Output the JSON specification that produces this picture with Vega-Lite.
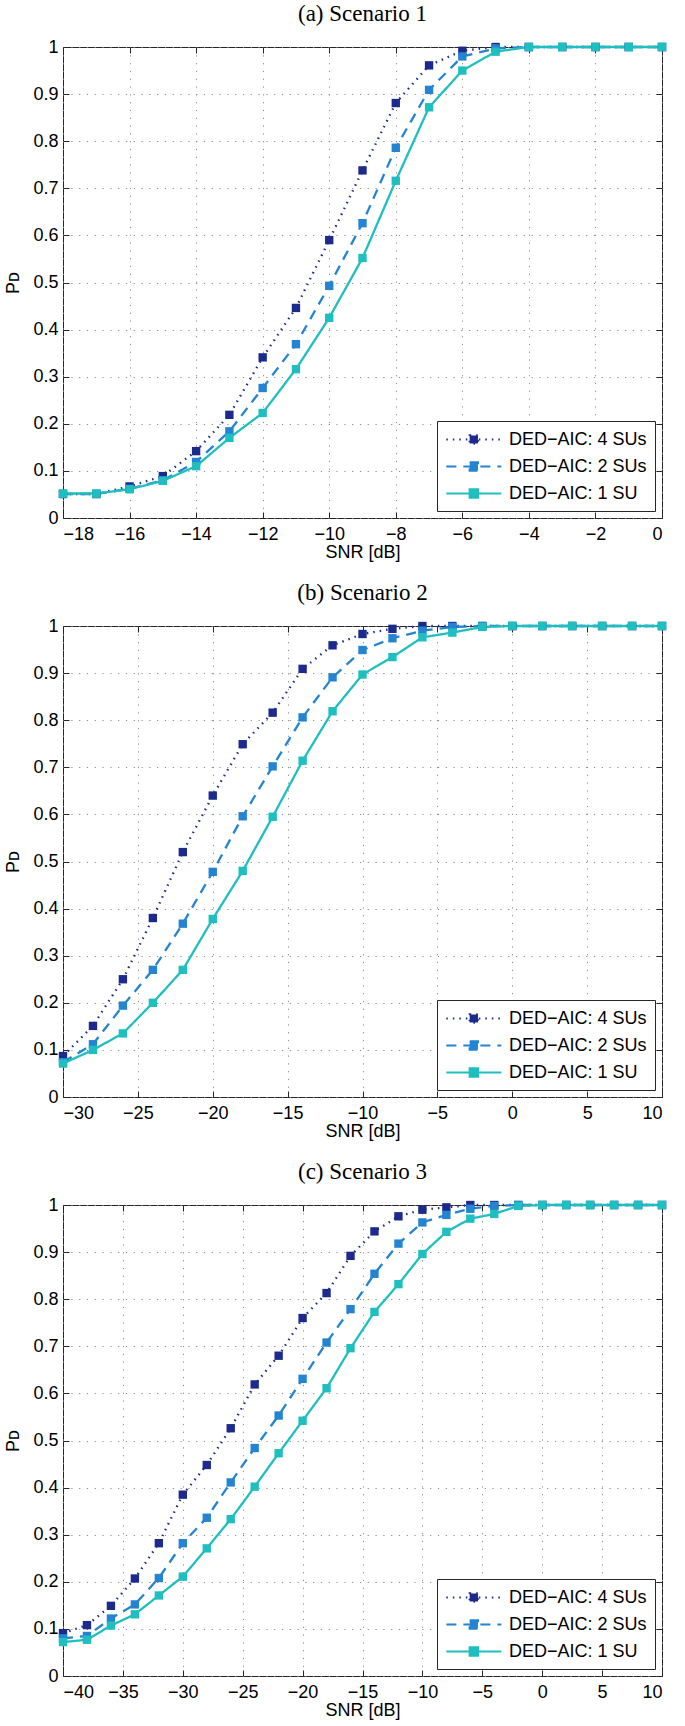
{
"$schema": "https://vega.github.io/schema/vega-lite/v6.json",
"background": "white",
"padding": {"left": 4, "top": 2, "right": 5, "bottom": 0},
"config": {
  "view": {"stroke": "#262626", "strokeWidth": 1},
  "font": "Liberation Sans",
  "axis": {"domain": false, "grid": true, "gridColor": "#8c8c8c", "gridDash": [1.2, 6.6], "gridWidth": 1, "tickColor": "#262626", "tickSize": -6, "labelFont": "Liberation Sans", "labelFontSize": 18, "labelColor": "#000", "titleFont": "Liberation Sans", "titleFontSize": 18, "titleFontWeight": "normal", "titleColor": "#000"},
  "axisX": {"labelPadding": 13, "titlePadding": 0},
  "axisY": {"labelPadding": 11, "titlePadding": 10},
  "title": {"font": "Liberation Serif", "fontSize": 23, "fontWeight": "normal", "color": "#000", "offset": 12},
  "concat": {"spacing": 19}
},
"datasets": {
"d1": [
{"x":-18,"s":"4 SUs","y":0.051},{"x":-17,"s":"4 SUs","y":0.051},{"x":-16,"s":"4 SUs","y":0.067},{"x":-15,"s":"4 SUs","y":0.089},{"x":-14,"s":"4 SUs","y":0.142},{"x":-13,"s":"4 SUs","y":0.219},{"x":-12,"s":"4 SUs","y":0.341},{"x":-11,"s":"4 SUs","y":0.446},{"x":-10,"s":"4 SUs","y":0.590},{"x":-9,"s":"4 SUs","y":0.738},{"x":-8,"s":"4 SUs","y":0.881},{"x":-7,"s":"4 SUs","y":0.961},{"x":-6,"s":"4 SUs","y":0.992},{"x":-5,"s":"4 SUs","y":1},{"x":-4,"s":"4 SUs","y":1},{"x":-3,"s":"4 SUs","y":1},{"x":-2,"s":"4 SUs","y":1},{"x":-1,"s":"4 SUs","y":1},{"x":0,"s":"4 SUs","y":1},
{"x":-18,"s":"2 SUs","y":0.051},{"x":-17,"s":"2 SUs","y":0.051},{"x":-16,"s":"2 SUs","y":0.062},{"x":-15,"s":"2 SUs","y":0.080},{"x":-14,"s":"2 SUs","y":0.119},{"x":-13,"s":"2 SUs","y":0.184},{"x":-12,"s":"2 SUs","y":0.276},{"x":-11,"s":"2 SUs","y":0.369},{"x":-10,"s":"2 SUs","y":0.493},{"x":-9,"s":"2 SUs","y":0.626},{"x":-8,"s":"2 SUs","y":0.786},{"x":-7,"s":"2 SUs","y":0.909},{"x":-6,"s":"2 SUs","y":0.980},{"x":-5,"s":"2 SUs","y":0.997},{"x":-4,"s":"2 SUs","y":1},{"x":-3,"s":"2 SUs","y":1},{"x":-2,"s":"2 SUs","y":1},{"x":-1,"s":"2 SUs","y":1},{"x":0,"s":"2 SUs","y":1},
{"x":-18,"s":"1 SU","y":0.052},{"x":-17,"s":"1 SU","y":0.052},{"x":-16,"s":"1 SU","y":0.061},{"x":-15,"s":"1 SU","y":0.079},{"x":-14,"s":"1 SU","y":0.110},{"x":-13,"s":"1 SU","y":0.170},{"x":-12,"s":"1 SU","y":0.223},{"x":-11,"s":"1 SU","y":0.316},{"x":-10,"s":"1 SU","y":0.425},{"x":-9,"s":"1 SU","y":0.552},{"x":-8,"s":"1 SU","y":0.716},{"x":-7,"s":"1 SU","y":0.872},{"x":-6,"s":"1 SU","y":0.950},{"x":-5,"s":"1 SU","y":0.990},{"x":-4,"s":"1 SU","y":1},{"x":-3,"s":"1 SU","y":1},{"x":-2,"s":"1 SU","y":1},{"x":-1,"s":"1 SU","y":1},{"x":0,"s":"1 SU","y":1}
],
"d2": [
{"x":-30,"s":"4 SUs","y":0.087},{"x":-28,"s":"4 SUs","y":0.151},{"x":-26,"s":"4 SUs","y":0.250},{"x":-24,"s":"4 SUs","y":0.380},{"x":-22,"s":"4 SUs","y":0.520},{"x":-20,"s":"4 SUs","y":0.640},{"x":-18,"s":"4 SUs","y":0.749},{"x":-16,"s":"4 SUs","y":0.816},{"x":-14,"s":"4 SUs","y":0.909},{"x":-12,"s":"4 SUs","y":0.959},{"x":-10,"s":"4 SUs","y":0.983},{"x":-8,"s":"4 SUs","y":0.994},{"x":-6,"s":"4 SUs","y":1},{"x":-4,"s":"4 SUs","y":1},{"x":-2,"s":"4 SUs","y":1},{"x":0,"s":"4 SUs","y":1},{"x":2,"s":"4 SUs","y":1},{"x":4,"s":"4 SUs","y":1},{"x":6,"s":"4 SUs","y":1},{"x":8,"s":"4 SUs","y":1},{"x":10,"s":"4 SUs","y":1},
{"x":-30,"s":"2 SUs","y":0.074},{"x":-28,"s":"2 SUs","y":0.112},{"x":-26,"s":"2 SUs","y":0.194},{"x":-24,"s":"2 SUs","y":0.270},{"x":-22,"s":"2 SUs","y":0.368},{"x":-20,"s":"2 SUs","y":0.478},{"x":-18,"s":"2 SUs","y":0.596},{"x":-16,"s":"2 SUs","y":0.702},{"x":-14,"s":"2 SUs","y":0.806},{"x":-12,"s":"2 SUs","y":0.891},{"x":-10,"s":"2 SUs","y":0.949},{"x":-8,"s":"2 SUs","y":0.974},{"x":-6,"s":"2 SUs","y":0.990},{"x":-4,"s":"2 SUs","y":0.998},{"x":-2,"s":"2 SUs","y":1},{"x":0,"s":"2 SUs","y":1},{"x":2,"s":"2 SUs","y":1},{"x":4,"s":"2 SUs","y":1},{"x":6,"s":"2 SUs","y":1},{"x":8,"s":"2 SUs","y":1},{"x":10,"s":"2 SUs","y":1},
{"x":-30,"s":"1 SU","y":0.071},{"x":-28,"s":"1 SU","y":0.100},{"x":-26,"s":"1 SU","y":0.135},{"x":-24,"s":"1 SU","y":0.200},{"x":-22,"s":"1 SU","y":0.270},{"x":-20,"s":"1 SU","y":0.378},{"x":-18,"s":"1 SU","y":0.480},{"x":-16,"s":"1 SU","y":0.595},{"x":-14,"s":"1 SU","y":0.714},{"x":-12,"s":"1 SU","y":0.819},{"x":-10,"s":"1 SU","y":0.897},{"x":-8,"s":"1 SU","y":0.934},{"x":-6,"s":"1 SU","y":0.976},{"x":-4,"s":"1 SU","y":0.986},{"x":-2,"s":"1 SU","y":0.998},{"x":0,"s":"1 SU","y":1},{"x":2,"s":"1 SU","y":1},{"x":4,"s":"1 SU","y":1},{"x":6,"s":"1 SU","y":1},{"x":8,"s":"1 SU","y":1},{"x":10,"s":"1 SU","y":1}
],
"d3": [
{"x":-40,"s":"4 SUs","y":0.091},{"x":-38,"s":"4 SUs","y":0.108},{"x":-36,"s":"4 SUs","y":0.149},{"x":-34,"s":"4 SUs","y":0.207},{"x":-32,"s":"4 SUs","y":0.282},{"x":-30,"s":"4 SUs","y":0.385},{"x":-28,"s":"4 SUs","y":0.448},{"x":-26,"s":"4 SUs","y":0.526},{"x":-24,"s":"4 SUs","y":0.619},{"x":-22,"s":"4 SUs","y":0.680},{"x":-20,"s":"4 SUs","y":0.760},{"x":-18,"s":"4 SUs","y":0.813},{"x":-16,"s":"4 SUs","y":0.892},{"x":-14,"s":"4 SUs","y":0.944},{"x":-12,"s":"4 SUs","y":0.976},{"x":-10,"s":"4 SUs","y":0.990},{"x":-8,"s":"4 SUs","y":0.995},{"x":-6,"s":"4 SUs","y":1},{"x":-4,"s":"4 SUs","y":1},{"x":-2,"s":"4 SUs","y":1},{"x":0,"s":"4 SUs","y":1},{"x":2,"s":"4 SUs","y":1},{"x":4,"s":"4 SUs","y":1},{"x":6,"s":"4 SUs","y":1},{"x":8,"s":"4 SUs","y":1},{"x":10,"s":"4 SUs","y":1},
{"x":-40,"s":"2 SUs","y":0.080},{"x":-38,"s":"2 SUs","y":0.085},{"x":-36,"s":"2 SUs","y":0.122},{"x":-34,"s":"2 SUs","y":0.152},{"x":-32,"s":"2 SUs","y":0.208},{"x":-30,"s":"2 SUs","y":0.282},{"x":-28,"s":"2 SUs","y":0.336},{"x":-26,"s":"2 SUs","y":0.411},{"x":-24,"s":"2 SUs","y":0.484},{"x":-22,"s":"2 SUs","y":0.553},{"x":-20,"s":"2 SUs","y":0.631},{"x":-18,"s":"2 SUs","y":0.708},{"x":-16,"s":"2 SUs","y":0.779},{"x":-14,"s":"2 SUs","y":0.854},{"x":-12,"s":"2 SUs","y":0.918},{"x":-10,"s":"2 SUs","y":0.963},{"x":-8,"s":"2 SUs","y":0.979},{"x":-6,"s":"2 SUs","y":0.992},{"x":-4,"s":"2 SUs","y":0.998},{"x":-2,"s":"2 SUs","y":1},{"x":0,"s":"2 SUs","y":1},{"x":2,"s":"2 SUs","y":1},{"x":4,"s":"2 SUs","y":1},{"x":6,"s":"2 SUs","y":1},{"x":8,"s":"2 SUs","y":1},{"x":10,"s":"2 SUs","y":1},
{"x":-40,"s":"1 SU","y":0.072},{"x":-38,"s":"1 SU","y":0.077},{"x":-36,"s":"1 SU","y":0.107},{"x":-34,"s":"1 SU","y":0.131},{"x":-32,"s":"1 SU","y":0.171},{"x":-30,"s":"1 SU","y":0.211},{"x":-28,"s":"1 SU","y":0.271},{"x":-26,"s":"1 SU","y":0.333},{"x":-24,"s":"1 SU","y":0.402},{"x":-22,"s":"1 SU","y":0.473},{"x":-20,"s":"1 SU","y":0.542},{"x":-18,"s":"1 SU","y":0.611},{"x":-16,"s":"1 SU","y":0.696},{"x":-14,"s":"1 SU","y":0.773},{"x":-12,"s":"1 SU","y":0.832},{"x":-10,"s":"1 SU","y":0.896},{"x":-8,"s":"1 SU","y":0.943},{"x":-6,"s":"1 SU","y":0.971},{"x":-4,"s":"1 SU","y":0.981},{"x":-2,"s":"1 SU","y":0.998},{"x":0,"s":"1 SU","y":1},{"x":2,"s":"1 SU","y":1},{"x":4,"s":"1 SU","y":1},{"x":6,"s":"1 SU","y":1},{"x":8,"s":"1 SU","y":1},{"x":10,"s":"1 SU","y":1}
]
},
"resolve": {"scale": {"x": "independent"}, "legend": {"color": "independent", "strokeDash": "independent"}},
"vconcat": [
{
 "title": {"text": "(a) Scenario 1", "font": "Liberation Serif", "fontSize": 23, "fontWeight": "normal", "offset": 12},
 "width": 599, "height": 471,
 "data": {"name": "d1"},
 "resolve": {"axis": {"x": "independent", "y": "independent"}},
 "layer": [
  {"mark": {"type": "line", "strokeWidth": 2.3},
   "encoding": {
    "x": {"field": "x", "type": "quantitative", "scale": {"domain": [-18, 0], "nice": false, "zero": false}, "axis": {"values": [-18,-16,-14,-12,-10,-8,-6,-4,-2,0], "title": "SNR [dB]", "labelFontSize": 18, "titleFontSize": 18}},
    "y": {"field": "y", "type": "quantitative", "scale": {"domain": [0, 1], "nice": false}, "axis": {"values": [0,0.1,0.2,0.3,0.4,0.5,0.6,0.7,0.8,0.9,1], "format": ".1~f", "title": "Pᴅ", "labelFontSize": 18, "titleFontSize": 18}},
    "color": {"field": "s", "type": "nominal", "scale": {"domain": ["4 SUs","2 SUs","1 SU"], "range": ["#1b2a8c","#2484d2","#1fbfbf"]},
      "legend": {"title": null, "orient": "bottom-right", "offset": 7, "strokeColor": "#262626", "fillColor": "white", "padding": 8, "labelFont": "Liberation Sans", "labelFontSize": 18, "labelColor": "#000", "labelLimit": 300, "symbolType": "M-1,0H5M1.55,-0.45H2.45V0.45H1.55Z", "symbolSize": 336, "symbolStrokeWidth": 2.2, "labelOffset": 43, "rowPadding": 7, "labelExpr": "'DED−AIC: ' + datum.label",
        "encode": {"symbols": {"update": {"fill": {"scale": "color", "field": "value"}, "stroke": {"scale": "color", "field": "value"}}}}}},
    "strokeDash": {"field": "s", "type": "nominal", "scale": {"domain": ["4 SUs","2 SUs","1 SU"], "range": [[1.5,5],[10,7],[1,0]]},
      "legend": {"title": null, "orient": "bottom-right", "offset": 7, "strokeColor": "#262626", "fillColor": "white", "padding": 8, "labelFont": "Liberation Sans", "labelFontSize": 18, "labelColor": "#000", "labelLimit": 300, "symbolType": "M-1,0H5M1.55,-0.45H2.45V0.45H1.55Z", "symbolSize": 336, "symbolStrokeWidth": 2.2, "labelOffset": 43, "rowPadding": 7, "labelExpr": "'DED−AIC: ' + datum.label"}}
   }},
  {"mark": {"type": "point", "shape": "square", "filled": true, "size": 70, "opacity": 1},
   "encoding": {
    "x": {"field": "x", "type": "quantitative", "axis": {"orient": "top", "values": [-18,-16,-14,-12,-10,-8,-6,-4,-2,0], "labels": false, "title": null, "grid": false}},
    "y": {"field": "y", "type": "quantitative", "axis": {"orient": "right", "values": [0,0.1,0.2,0.3,0.4,0.5,0.6,0.7,0.8,0.9,1], "labels": false, "title": null, "grid": false}},
    "color": {"field": "s", "type": "nominal", "legend": null}
   }}
 ]
},
{
 "title": {"text": "(b) Scenario 2", "font": "Liberation Serif", "fontSize": 23, "fontWeight": "normal", "offset": 12},
 "width": 599, "height": 471,
 "data": {"name": "d2"},
 "resolve": {"axis": {"x": "independent", "y": "independent"}},
 "layer": [
  {"mark": {"type": "line", "strokeWidth": 2.3},
   "encoding": {
    "x": {"field": "x", "type": "quantitative", "scale": {"domain": [-30, 10], "nice": false, "zero": false}, "axis": {"values": [-30,-25,-20,-15,-10,-5,0,5,10], "title": "SNR [dB]", "labelFontSize": 18, "titleFontSize": 18}},
    "y": {"field": "y", "type": "quantitative", "scale": {"domain": [0, 1], "nice": false}, "axis": {"values": [0,0.1,0.2,0.3,0.4,0.5,0.6,0.7,0.8,0.9,1], "format": ".1~f", "title": "Pᴅ", "labelFontSize": 18, "titleFontSize": 18}},
    "color": {"field": "s", "type": "nominal", "scale": {"domain": ["4 SUs","2 SUs","1 SU"], "range": ["#1b2a8c","#2484d2","#1fbfbf"]},
      "legend": {"title": null, "orient": "bottom-right", "offset": 7, "strokeColor": "#262626", "fillColor": "white", "padding": 8, "labelFont": "Liberation Sans", "labelFontSize": 18, "labelColor": "#000", "labelLimit": 300, "symbolType": "M-1,0H5M1.55,-0.45H2.45V0.45H1.55Z", "symbolSize": 336, "symbolStrokeWidth": 2.2, "labelOffset": 43, "rowPadding": 7, "labelExpr": "'DED−AIC: ' + datum.label",
        "encode": {"symbols": {"update": {"fill": {"scale": "color", "field": "value"}, "stroke": {"scale": "color", "field": "value"}}}}}},
    "strokeDash": {"field": "s", "type": "nominal", "scale": {"domain": ["4 SUs","2 SUs","1 SU"], "range": [[1.5,5],[10,7],[1,0]]},
      "legend": {"title": null, "orient": "bottom-right", "offset": 7, "strokeColor": "#262626", "fillColor": "white", "padding": 8, "labelFont": "Liberation Sans", "labelFontSize": 18, "labelColor": "#000", "labelLimit": 300, "symbolType": "M-1,0H5M1.55,-0.45H2.45V0.45H1.55Z", "symbolSize": 336, "symbolStrokeWidth": 2.2, "labelOffset": 43, "rowPadding": 7, "labelExpr": "'DED−AIC: ' + datum.label"}}
   }},
  {"mark": {"type": "point", "shape": "square", "filled": true, "size": 70, "opacity": 1},
   "encoding": {
    "x": {"field": "x", "type": "quantitative", "axis": {"orient": "top", "values": [-30,-25,-20,-15,-10,-5,0,5,10], "labels": false, "title": null, "grid": false}},
    "y": {"field": "y", "type": "quantitative", "axis": {"orient": "right", "values": [0,0.1,0.2,0.3,0.4,0.5,0.6,0.7,0.8,0.9,1], "labels": false, "title": null, "grid": false}},
    "color": {"field": "s", "type": "nominal", "legend": null}
   }}
 ]
},
{
 "title": {"text": "(c) Scenario 3", "font": "Liberation Serif", "fontSize": 23, "fontWeight": "normal", "offset": 12},
 "width": 599, "height": 471,
 "data": {"name": "d3"},
 "resolve": {"axis": {"x": "independent", "y": "independent"}},
 "layer": [
  {"mark": {"type": "line", "strokeWidth": 2.3},
   "encoding": {
    "x": {"field": "x", "type": "quantitative", "scale": {"domain": [-40, 10], "nice": false, "zero": false}, "axis": {"values": [-40,-35,-30,-25,-20,-15,-10,-5,0,5,10], "title": "SNR [dB]", "labelFontSize": 18, "titleFontSize": 18}},
    "y": {"field": "y", "type": "quantitative", "scale": {"domain": [0, 1], "nice": false}, "axis": {"values": [0,0.1,0.2,0.3,0.4,0.5,0.6,0.7,0.8,0.9,1], "format": ".1~f", "title": "Pᴅ", "labelFontSize": 18, "titleFontSize": 18}},
    "color": {"field": "s", "type": "nominal", "scale": {"domain": ["4 SUs","2 SUs","1 SU"], "range": ["#1b2a8c","#2484d2","#1fbfbf"]},
      "legend": {"title": null, "orient": "bottom-right", "offset": 7, "strokeColor": "#262626", "fillColor": "white", "padding": 8, "labelFont": "Liberation Sans", "labelFontSize": 18, "labelColor": "#000", "labelLimit": 300, "symbolType": "M-1,0H5M1.55,-0.45H2.45V0.45H1.55Z", "symbolSize": 336, "symbolStrokeWidth": 2.2, "labelOffset": 43, "rowPadding": 7, "labelExpr": "'DED−AIC: ' + datum.label",
        "encode": {"symbols": {"update": {"fill": {"scale": "color", "field": "value"}, "stroke": {"scale": "color", "field": "value"}}}}}},
    "strokeDash": {"field": "s", "type": "nominal", "scale": {"domain": ["4 SUs","2 SUs","1 SU"], "range": [[1.5,5],[10,7],[1,0]]},
      "legend": {"title": null, "orient": "bottom-right", "offset": 7, "strokeColor": "#262626", "fillColor": "white", "padding": 8, "labelFont": "Liberation Sans", "labelFontSize": 18, "labelColor": "#000", "labelLimit": 300, "symbolType": "M-1,0H5M1.55,-0.45H2.45V0.45H1.55Z", "symbolSize": 336, "symbolStrokeWidth": 2.2, "labelOffset": 43, "rowPadding": 7, "labelExpr": "'DED−AIC: ' + datum.label"}}
   }},
  {"mark": {"type": "point", "shape": "square", "filled": true, "size": 70, "opacity": 1},
   "encoding": {
    "x": {"field": "x", "type": "quantitative", "axis": {"orient": "top", "values": [-40,-35,-30,-25,-20,-15,-10,-5,0,5,10], "labels": false, "title": null, "grid": false}},
    "y": {"field": "y", "type": "quantitative", "axis": {"orient": "right", "values": [0,0.1,0.2,0.3,0.4,0.5,0.6,0.7,0.8,0.9,1], "labels": false, "title": null, "grid": false}},
    "color": {"field": "s", "type": "nominal", "legend": null}
   }}
 ]
}
]
}
